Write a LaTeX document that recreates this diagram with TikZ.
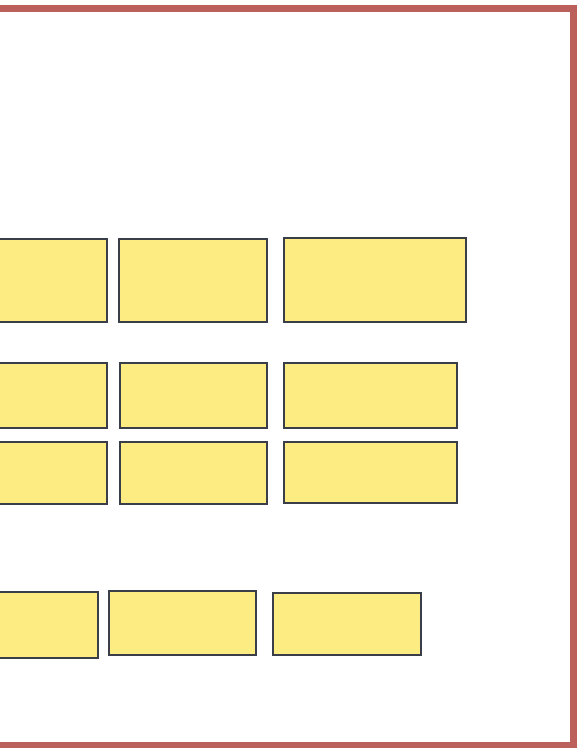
\documentclass[tikz,border=0pt]{standalone}
\definecolor{boxfill}{RGB}{252,236,130}
\definecolor{boxline}{RGB}{58,62,72}
\definecolor{frame}{RGB}{188,96,92}
\begin{document}
\begin{tikzpicture}[x=1pt,y=-1pt,
  box/.style={draw=boxline,fill=boxfill,line width=2pt,rectangle,inner sep=0pt}]
\useasboundingbox (0,0) rectangle (581,748);
\clip (0,0) rectangle (581,748);
\fill[white] (0,0) rectangle (581,748);
% frame
\draw[frame,line width=7pt,line join=miter] (-5,8.5) -- (573,8.5) -- (573,745.5) -- (-5,745.5);
% row 1
\node[box,minimum width=118pt,minimum height=83pt] (r1a) at (48,280) {};
\node[box,minimum width=148pt,minimum height=83pt] (r1b) at (193,280) {};
\node[box,minimum width=182pt,minimum height=84pt] (r1c) at (375,280) {};
% row 2
\node[box,minimum width=118pt,minimum height=65pt] (r2a) at (48,395.5) {};
\node[box,minimum width=147pt,minimum height=65pt] (r2b) at (193,395.5) {};
\node[box,minimum width=173pt,minimum height=65pt] (r2c) at (370.5,395.5) {};
% row 3
\node[box,minimum width=118pt,minimum height=62pt] (r3a) at (48,472.5) {};
\node[box,minimum width=147pt,minimum height=62pt] (r3b) at (193.5,472.5) {};
\node[box,minimum width=173pt,minimum height=61pt] (r3c) at (370.5,472.5) {};
% row 4
\node[box,minimum width=108pt,minimum height=66pt] (r4a) at (44,625) {};
\node[box,minimum width=147pt,minimum height=64pt] (r4b) at (182.5,623) {};
\node[box,minimum width=148pt,minimum height=62pt] (r4c) at (347,624) {};
\end{tikzpicture}
\end{document}
